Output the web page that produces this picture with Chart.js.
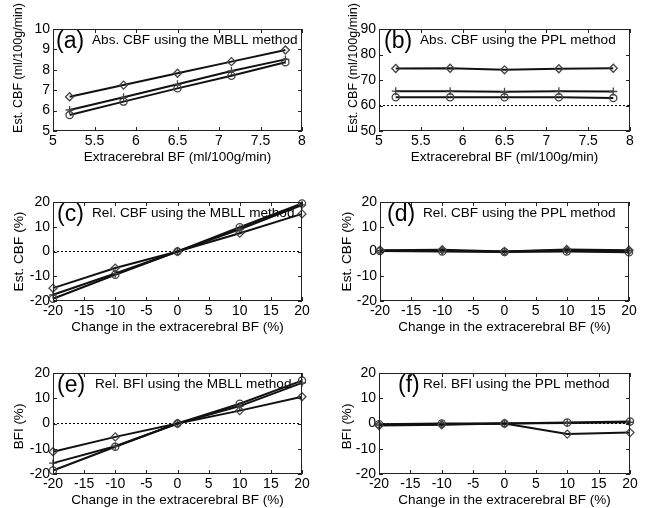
<!DOCTYPE html>
<html>
<head>
<meta charset="utf-8">
<script src="https://cdn.jsdelivr.net/npm/chart.js@4/dist/chart.umd.min.js"></script>
<style>
  body { margin: 0; background: #fff; }
  #wrap { position: relative; width: 649px; height: 508px; }
  canvas { position: absolute; }
</style>
</head>
<body>
<div id="wrap">
  <canvas id="pa" width="325" height="172" style="left:0;top:0"></canvas>
  <canvas id="pb" width="324" height="172" style="left:325px;top:0"></canvas>
  <canvas id="pc" width="325" height="168" style="left:0;top:172px"></canvas>
  <canvas id="pd" width="324" height="168" style="left:325px;top:172px"></canvas>
  <canvas id="pe" width="325" height="168" style="left:0;top:340px"></canvas>
  <canvas id="pf" width="324" height="168" style="left:325px;top:340px"></canvas>
</div>
<script>
// x values
const absBF = [5.2, 5.85, 6.5, 7.15, 7.8];
const relChange = [-20, -10, 0, 10, 20];

// tick labels
const absXTicks = [5, 5.5, 6, 6.5, 7, 7.5, 8];
const relXTicks = [-20, -15, -10, -5, 0, 5, 10, 15, 20];
const aYTicks = [5, 6, 7, 8, 9, 10];
const bYTicks = [50, 60, 70, 80, 90];
const relYTicks = [-20, -10, 0, 10, 20];

// (a) abs. CBF, MBLL
const aDiamond = [6.68, 7.25, 7.83, 8.40, 8.97];
const aPlus    = [6.03, 6.65, 7.29, 7.94, 8.51];
const aCircle  = [5.78, 6.44, 7.09, 7.71, 8.37];
// (b) abs. CBF, PPL
const bDiamond = [74.5, 74.6, 74.0, 74.4, 74.6];
const bPlus    = [65.6, 65.6, 65.4, 65.6, 65.5];
const bCircle  = [63.2, 63.2, 63.2, 63.2, 62.9];
const bTrue = 60;
// (c) rel. CBF, MBLL
const cDiamond = [-14.8, -6.7, 0, 7.4, 15.2];
const cPlus    = [-17.5, -8.9, 0, 9.0, 18.8];
const cCircle  = [-19.1, -9.4, 0, 9.8, 19.4];
// (d) rel. CBF, PPL
const dDiamond = [0.5, 0.7, 0, 0.8, 0.5];
const dPlus    = [0.3, 0.3, 0, 0.5, 0.3];
const dCircle  = [0.2, 0, -0.2, 0, -0.3];
// (e) rel. BFI, MBLL
const eDiamond = [-11.2, -5.3, 0, 5.1, 10.6];
const ePlus    = [-15.7, -9.0, 0, 6.9, 16.1];
const eCircle  = [-18.6, -9.2, 0, 7.8, 17.0];
// (f) rel. BFI, PPL
const fDiamond = [-0.8, -0.5, 0, -4.2, -3.6];
const fPlus    = [-0.6, -0.3, 0, 0.2, 0.5];
const fCircle  = [-0.3, 0, 0, 0.4, 0.8];
const relTrue = 0;

const FONT = '"Liberation Sans", Arial, sans-serif';

function pts(xs, ys) {
  return xs.map((x, i) => ({ x: x, y: ys[i] }));
}

function series(xs, ys, style, r) {
  return {
    data: pts(xs, ys),
    showLine: true,
    borderColor: '#111',
    borderWidth: 2,
    pointStyle: style,
    pointRadius: r,
    pointBorderColor: '#444',
    pointBorderWidth: 1.3,
    pointBackgroundColor: 'rgba(0,0,0,0)',
    clip: false
  };
}

function refLine(xTicks, yVal) {
  return {
    data: [{ x: xTicks[0], y: yVal }, { x: xTicks[xTicks.length - 1], y: yVal }],
    showLine: true,
    borderColor: '#000',
    borderWidth: 1,
    borderDash: [2, 2],
    pointRadius: 0
  };
}

// box with inward ticks, y axis title, panel caption
const frame = {
  id: 'frame',
  beforeDatasetsDraw(chart, args, opts) {
    const { ctx, chartArea: a } = chart;
    ctx.save();
    ctx.fillStyle = '#000';
    ctx.textBaseline = 'middle';
    ctx.font = '23px ' + FONT;
    ctx.fillText(opts.letter, a.left + opts.lx, a.top + 13);
    ctx.font = '13.6px ' + FONT;
    ctx.fillText(opts.caption, a.left + opts.tx, a.top + 11);
    // y axis title
    ctx.translate(opts.yx, (a.top + a.bottom) / 2 + opts.ydy);
    ctx.rotate(-Math.PI / 2);
    ctx.textAlign = 'center';
    ctx.font = opts.ysize + 'px ' + FONT;
    ctx.fillText(opts.yTitle, 0, 0);
    ctx.restore();
  },
  afterDraw(chart) {
    const { ctx, chartArea: a, scales } = chart;
    ctx.save();
    ctx.strokeStyle = '#222';
    ctx.lineWidth = 1;
    ctx.strokeRect(a.left + 0.5, a.top + 0.5, a.width - 1, a.height - 1);
    ctx.beginPath();
    scales.x.ticks.forEach(t => {
      const px = Math.round(scales.x.getPixelForValue(t.value)) + 0.5;
      ctx.moveTo(px, a.bottom); ctx.lineTo(px, a.bottom - 4);
      ctx.moveTo(px, a.top); ctx.lineTo(px, a.top + 4);
    });
    scales.y.ticks.forEach(t => {
      const py = Math.round(scales.y.getPixelForValue(t.value)) + 0.5;
      ctx.moveTo(a.left, py); ctx.lineTo(a.left + 4, py);
      ctx.moveTo(a.right, py); ctx.lineTo(a.right - 4, py);
    });
    ctx.stroke();
    ctx.restore();
  }
};

function makePanel(id, p) {
  const datasets = [
    series(p.xs, p.diamond, 'rectRot', 4),
    series(p.xs, p.plus, 'cross', 4),
    series(p.xs, p.circle, 'circle', 3.6)
  ];
  if (p.ref !== undefined) datasets.push(refLine(p.xTicks, p.ref));
  new Chart(document.getElementById(id), {
    type: 'scatter',
    data: { datasets: datasets },
    plugins: [frame],
    options: {
      responsive: false,
      animation: false,
      events: [],
      layout: { padding: { top: p.g.top, right: p.g.right, left: 0, bottom: 0 } },
      plugins: {
        legend: { display: false },
        tooltip: { enabled: false },
        frame: {
          letter: p.letter, caption: p.caption, lx: p.g.lx, tx: p.g.tx,
          yTitle: p.yTitle, yx: p.g.yx, ydy: p.g.ydy, ysize: p.g.ysize
        }
      },
      scales: {
        x: {
          type: 'linear',
          min: p.xTicks[0],
          max: p.xTicks[p.xTicks.length - 1],
          afterBuildTicks: s => { s.ticks = p.xTicks.map(v => ({ value: v })); },
          afterFit: s => { s.height = p.g.xh; },
          grid: { display: false, drawTicks: false },
          border: { display: false },
          ticks: { color: '#000', font: { family: FONT, size: 14 }, padding: 2, maxRotation: 0, autoSkip: false, callback: v => String(v) },
          title: { display: true, text: p.xTitle, color: '#000', font: { family: FONT, size: 13.5 }, padding: { top: 0, bottom: p.g.xtp } }
        },
        y: {
          type: 'linear',
          min: p.yTicks[0],
          max: p.yTicks[p.yTicks.length - 1],
          afterBuildTicks: s => { s.ticks = p.yTicks.map(v => ({ value: v })); },
          afterFit: s => { s.width = p.g.yw; },
          grid: { display: false, drawTicks: false },
          border: { display: false },
          ticks: { color: '#000', font: { family: FONT, size: 14 }, padding: 3, autoSkip: false, callback: v => String(v) },
          title: { display: false }
        }
      }
    }
  });
}

const absXTitle = 'Extracerebral BF (ml/100g/min)';
const relXTitle = 'Change in the extracerebral BF (%)';

makePanel('pa', {
  xs: absBF, diamond: aDiamond, plus: aPlus, circle: aCircle,
  xTicks: absXTicks, yTicks: aYTicks,
  xTitle: absXTitle, yTitle: 'Est. CBF (ml/100g/min)',
  letter: '(a)', caption: 'Abs. CBF using the MBLL method',
  g: { top: 29, right: 23, yw: 53, xh: 41, xtp: 7, lx: 3, tx: 39, yx: 19, ydy: -12, ysize: 12.5 }
});
makePanel('pb', {
  xs: absBF, diamond: bDiamond, plus: bPlus, circle: bCircle, ref: bTrue,
  xTicks: absXTicks, yTicks: bYTicks,
  xTitle: absXTitle, yTitle: 'Est. CBF (ml/100g/min)',
  letter: '(b)', caption: 'Abs. CBF using the PPL method',
  g: { top: 29, right: 19, yw: 54, xh: 41, xtp: 7, lx: 5, tx: 41, yx: 29, ydy: -12, ysize: 12.5 }
});
makePanel('pc', {
  xs: relChange, diamond: cDiamond, plus: cPlus, circle: cCircle, ref: relTrue,
  xTicks: relXTicks, yTicks: relYTicks,
  xTitle: relXTitle, yTitle: 'Est. CBF (%)',
  letter: '(c)', caption: 'Rel. CBF using the MBLL method',
  g: { top: 30, right: 23, yw: 53, xh: 39, xtp: 5, lx: 4, tx: 39, yx: 19, ydy: 0, ysize: 13.7 }
});
makePanel('pd', {
  xs: relChange, diamond: dDiamond, plus: dPlus, circle: dCircle, ref: relTrue,
  xTicks: relXTicks, yTicks: relYTicks,
  xTitle: relXTitle, yTitle: 'Est. CBF (%)',
  letter: '(d)', caption: 'Rel. CBF using the PPL method',
  g: { top: 30, right: 20, yw: 55, xh: 39, xtp: 5, lx: 7, tx: 43, yx: 22, ydy: 0, ysize: 13.7 }
});
makePanel('pe', {
  xs: relChange, diamond: eDiamond, plus: ePlus, circle: eCircle, ref: relTrue,
  xTicks: relXTicks, yTicks: relYTicks,
  xTitle: relXTitle, yTitle: 'BFI (%)',
  letter: '(e)', caption: 'Rel. BFI using the MBLL method',
  g: { top: 33, right: 23, yw: 53, xh: 34, xtp: 0, lx: 4, tx: 42, yx: 19, ydy: 3, ysize: 13.5 }
});
makePanel('pf', {
  xs: relChange, diamond: fDiamond, plus: fPlus, circle: fCircle, ref: relTrue,
  xTicks: relXTicks, yTicks: relYTicks,
  xTitle: relXTitle, yTitle: 'BFI (%)',
  letter: '(f)', caption: 'Rel. BFI using the PPL method',
  g: { top: 33, right: 19, yw: 54, xh: 34, xtp: 0, lx: 19, tx: 44, yx: 22, ydy: 3, ysize: 13.5 }
});
</script>
</body>
</html>
